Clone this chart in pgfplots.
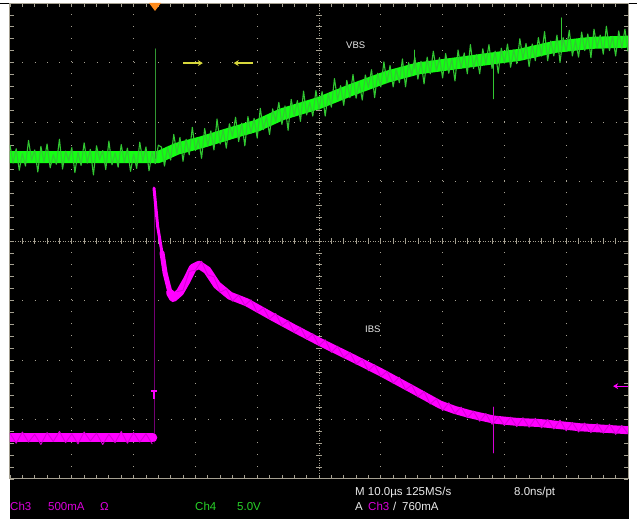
\documentclass[border=0pt]{standalone}
\usepackage{fontspec}
\setmainfont{Liberation Sans}
\usepackage{pgfplots}
\pgfplotsset{compat=1.18}
\usetikzlibrary{arrows.meta}

\definecolor{grat}{RGB}{165,160,145}
\definecolor{ch4}{RGB}{20,255,20}
\definecolor{ch4dk}{RGB}{50,200,50}
\definecolor{ch4trig}{RGB}{50,150,50}
\definecolor{ch3}{RGB}{255,0,255}
\definecolor{ch3dk}{RGB}{215,0,215}
\definecolor{ch3trig}{RGB}{115,0,115}
\definecolor{trigor}{RGB}{255,140,30}
\definecolor{curs}{RGB}{215,215,60}
\definecolor{txt}{RGB}{235,235,235}
\definecolor{ch3txt}{RGB}{220,0,220}
\definecolor{ch4txt}{RGB}{40,210,40}

\pgfplotstableread{
x y
0.00 5.61
0.05 5.31
0.10 5.55
0.15 5.19
0.20 5.47
0.25 5.26
0.30 5.69
0.35 5.36
0.40 5.53
0.45 5.16
0.50 5.59
0.55 5.33
0.60 5.63
0.65 5.23
0.70 5.45
0.75 5.29
0.80 5.71
0.85 5.21
0.90 5.51
0.95 5.35
1.00 5.57
1.05 5.15
1.10 5.49
1.15 5.27
1.20 5.65
1.25 5.31
1.30 5.54
1.35 5.11
1.40 5.60
1.45 5.37
1.50 5.52
1.55 5.20
1.60 5.68
1.65 5.28
1.70 5.48
1.75 5.24
1.80 5.62
1.85 5.32
1.90 5.56
1.95 5.17
2.00 5.46
2.05 5.22
2.10 5.66
2.15 5.34
2.20 5.58
2.25 5.18
2.30 5.50
2.35 5.30
2.40 5.61
2.45 5.58
2.50 5.26
2.55 5.57
2.60 5.36
2.65 5.79
2.70 5.47
2.75 5.74
2.80 5.34
2.85 5.71
2.90 5.45
2.95 5.91
3.00 5.52
3.05 5.72
3.10 5.39
3.15 5.89
3.20 5.60
3.25 5.85
3.30 5.53
3.35 6.05
3.40 5.63
3.45 5.87
3.50 5.56
3.55 5.97
3.60 5.76
3.65 6.08
3.70 5.67
3.75 5.98
3.80 5.60
3.85 6.09
3.90 5.81
3.95 6.06
4.00 5.73
4.05 6.23
4.10 5.87
4.15 6.09
4.20 5.79
4.25 6.22
4.30 6.01
4.35 6.33
4.40 5.96
4.45 6.27
4.50 5.86
4.55 6.38
4.60 6.10
4.65 6.36
4.70 6.01
4.75 6.52
4.80 6.12
4.85 6.33
4.90 6.10
4.95 6.53
5.00 6.21
5.05 6.51
5.10 6.10
5.15 6.48
5.20 6.25
5.25 6.73
5.30 6.37
5.35 6.61
5.40 6.28
5.45 6.70
5.50 6.41
5.55 6.80
5.60 6.40
5.65 6.67
5.70 6.37
5.75 6.79
5.80 6.58
5.85 6.88
5.90 6.41
5.95 6.82
6.00 6.59
6.05 7.01
6.10 6.66
6.15 6.95
6.20 6.59
6.25 6.89
6.30 6.66
6.35 7.06
6.40 6.59
6.45 7.00
6.50 6.78
6.55 7.09
6.60 6.72
6.65 7.02
6.70 6.64
6.75 7.09
6.80 6.81
6.85 7.19
6.90 6.86
6.95 7.08
7.00 6.74
7.05 7.15
7.10 6.82
7.15 7.06
7.20 6.69
7.25 7.21
7.30 6.90
7.35 7.16
7.40 6.81
7.45 7.30
7.50 6.90
7.55 7.13
7.60 6.81
7.65 7.23
7.70 6.98
7.75 7.30
7.80 6.90
7.85 7.19
7.90 6.82
7.95 7.24
8.00 6.99
8.05 7.31
8.10 6.92
8.15 7.21
8.20 6.98
8.25 7.40
8.30 7.06
8.35 7.32
8.40 6.93
8.45 7.31
8.50 7.03
8.55 7.42
8.60 7.11
8.65 7.52
8.70 7.03
8.75 7.36
8.80 7.11
8.85 7.46
8.90 7.00
8.95 7.42
9.00 7.19
9.05 7.54
9.10 7.11
9.15 7.37
9.20 7.09
9.25 7.51
9.30 7.20
9.35 7.48
9.40 7.08
9.45 7.56
9.50 7.25
9.55 7.46
9.60 7.14
9.65 7.61
9.70 7.20
9.75 7.44
9.80 7.11
9.85 7.53
9.90 7.24
9.95 7.56
10.00 7.19
}\vbsnoise

\pgfplotstableread{
x y
0 5.41
2.4 5.41
2.7 5.55
3.1 5.66
3.6 5.82
4.0 5.94
4.4 6.13
5.0 6.32
5.5 6.53
6.1 6.76
6.6 6.90
7.6 7.04
8.25 7.13
8.8 7.26
9.4 7.33
10 7.35
}\vbscore

\pgfplotstableread{
x y
0.0 0.77
0.1 0.60
0.2 0.79
0.3 0.62
0.4 0.75
0.5 0.58
0.6 0.78
0.7 0.63
0.8 0.80
0.9 0.61
1.0 0.76
1.1 0.59
1.2 0.79
1.3 0.64
1.4 0.77
1.5 0.58
1.6 0.75
1.7 0.61
1.8 0.80
1.9 0.60
2.0 0.78
2.1 0.62
2.2 0.76
2.3 0.59
}\ibsflatnoise

\pgfplotstableread{
x y
2.7 3.15
2.8 3.17
2.9 3.49
3.0 3.51
3.1 3.66
3.2 3.43
3.3 3.40
3.4 3.14
3.5 3.19
3.6 2.99
3.7 3.09
3.8 2.92
3.9 3.01
4.0 2.80
4.1 2.88
4.2 2.69
4.3 2.78
4.4 2.58
4.5 2.66
4.6 2.46
4.7 2.55
4.8 2.35
4.9 2.44
5.0 2.24
5.1 2.34
5.2 2.13
5.3 2.23
5.4 2.04
5.5 2.13
5.6 1.93
5.7 2.02
5.8 1.82
5.9 1.92
6.0 1.72
6.1 1.81
6.2 1.61
6.3 1.71
6.4 1.50
6.5 1.58
6.6 1.38
6.7 1.47
6.8 1.26
6.9 1.35
7.0 1.15
7.1 1.28
7.2 1.10
7.3 1.21
7.4 1.03
7.5 1.14
7.6 0.97
7.7 1.10
7.8 0.92
7.9 1.05
8.0 0.90
8.1 1.04
8.2 0.88
8.3 1.03
8.4 0.87
8.5 1.02
8.6 0.86
8.7 1.00
8.8 0.84
8.9 0.99
9.0 0.81
9.1 0.95
9.2 0.79
9.3 0.94
9.4 0.78
9.5 0.93
9.6 0.77
9.7 0.92
9.8 0.75
9.9 0.90
10.0 0.76
}\ibsnoise

\pgfplotstableread{
x y
2.59 3.13
2.64 3.04
2.75 3.14
2.86 3.34
2.96 3.55
3.06 3.60
3.19 3.51
3.35 3.26
3.56 3.08
3.83 2.97
4.26 2.72
4.58 2.54
5.02 2.30
5.55 2.03
5.99 1.80
6.47 1.53
6.96 1.25
7.20 1.16
7.44 1.09
7.82 1.00
8.20 0.96
8.58 0.94
9.22 0.87
10 0.82
}\ibscore

\begin{document}
\begin{tikzpicture}[x=1pt,y=1pt]
\path[use as bounding box] (0,0) rectangle (637,519);
% screen
\fill[white] (0,0) rectangle (637,519);
\fill[black] (10,0) rectangle (629,516);
\draw[black,line width=0.8pt] (0,516) -- (10,516) (629,516) -- (637,516);

% graticule: dotted division lines
\foreach \k in {1,2,3,4,6,7,8,9}
  \draw[grat,line width=0.9pt,dash pattern=on 1pt off 10.9pt] ({10+61.8*\k},40) -- ({10+61.8*\k},516);
\foreach \k in {1,2,3,5,6,7}
  \draw[grat,line width=0.9pt,dash pattern=on 1pt off 11.36pt] (10,{40+59.5*\k}) -- (628,{40+59.5*\k});
% centre cross with sub-division ticks
\draw[grat,line width=0.7pt,dash pattern=on 1pt off 1.5pt] (319,40) -- (319,516);
\draw[grat,line width=0.7pt,dash pattern=on 1pt off 1.5pt] (10,278) -- (628,278);
\foreach \k in {1,...,39}
  \draw[grat,line width=0.7pt] (316,{40+11.9*\k}) -- (322,{40+11.9*\k});
\foreach \k in {1,...,49}
  \draw[grat,line width=0.7pt] ({10+12.36*\k},275) -- ({10+12.36*\k},281);

\begin{axis}[
    at={(10pt,40pt)}, anchor=origin,
    scale only axis, width=618pt, height=476pt,
    xmin=0, xmax=10, ymin=0, ymax=8,
    axis line style={grat,line width=1pt},
    xtick={0,...,10}, ytick={0,...,8},
    minor x tick num=4, minor y tick num=4,
    xticklabels={,,}, yticklabels={,,},
    tick align=inside, tick pos=both,
    major tick length=4pt, minor tick length=4pt,
    tick style={grat,line width=0.8pt},
    every axis plot/.append style={line join=round,line cap=round},
]
% --- Ch4 (VBS) ---
\addplot[ch4,line width=12pt] table {\vbscore};
\addplot[ch4dk,line width=1.1pt] table {\vbsnoise};
\addplot[ch4dk,line width=0.9pt] coordinates {(7.83,7.07) (7.83,6.39)};
\addplot[ch4dk,line width=0.9pt] coordinates {(8.92,7.28) (8.92,7.75)};
\addplot[ch4dk,line width=0.9pt] coordinates {(6.55,6.90) (6.55,7.21)};
\addplot[ch4trig,line width=0.9pt] coordinates {(2.35,5.39) (2.35,7.23)};

% --- Ch3 (IBS) ---
\addplot[ch3trig,line width=0.9pt] coordinates {(2.33,0.62) (2.33,4.89)};
\addplot[ch3,line width=9pt] coordinates {(0,0.69) (2.31,0.69)};
\addplot[ch3dk,line width=0.9pt] table {\ibsflatnoise};
\addplot[ch3,line width=3pt] coordinates {(2.33,4.89) (2.39,4.24) (2.46,3.80)};
\addplot[ch3,line width=5pt] coordinates {(2.46,3.80) (2.51,3.46) (2.59,3.13)};
\addplot[ch3,line width=8pt] table {\ibscore};
\addplot[ch3dk,line width=0.9pt] table {\ibsnoise};
\addplot[ch3dk,line width=0.9pt] coordinates {(7.83,1.21) (7.83,0.44)};

% markers
\draw[ch3,line width=1.3pt] (axis cs:2.28,1.48) -- (axis cs:2.38,1.48);
\draw[ch3,line width=1.3pt] (axis cs:2.33,1.48) -- (axis cs:2.33,1.34);
\draw[ch3,line width=1.3pt,-{Stealth[length=5pt,width=6pt]}] (axis cs:10,1.56) -- (axis cs:9.76,1.56);
\draw[curs,line width=1.2pt,-{Stealth[length=5pt,width=6pt]}] (axis cs:2.80,6.99) -- (axis cs:3.12,6.99);
\draw[curs,line width=1.2pt,-{Stealth[length=5pt,width=6pt]}] (axis cs:3.93,6.99) -- (axis cs:3.62,6.99);
\end{axis}

% trigger position marker
\fill[trigor] (149,516) -- (161,516) -- (155,508) -- cycle;

% trace labels
\node[txt,anchor=west,inner sep=0pt,font=\fontsize{9.5}{11}\selectfont] at (346,474) {VBS};
\node[txt,anchor=west,inner sep=0pt,font=\fontsize{9.5}{11}\selectfont] at (365,190) {IBS};

% readout
\begin{scope}[every node/.style={inner sep=0pt,anchor=base west,font=\fontsize{11.5}{13}\selectfont}]
\node[ch3txt] at (10,8) {Ch3};
\node[ch3txt] at (48,8) {500mA};
\node[ch3txt] at (100,8) {Ω};
\node[ch4txt] at (195,8) {Ch4};
\node[ch4txt] at (237,8) {5.0V};
\node[txt] at (355,23) {M 10.0µs 125MS/s};
\node[txt] at (514,23) {8.0ns/pt};
\node[txt] at (355,8) {A};
\node[ch3txt] at (368,8) {Ch3};
\node[txt] at (393,8) {/};
\node[txt] at (402,8) {760mA};
\end{scope}
\end{tikzpicture}
\end{document}
